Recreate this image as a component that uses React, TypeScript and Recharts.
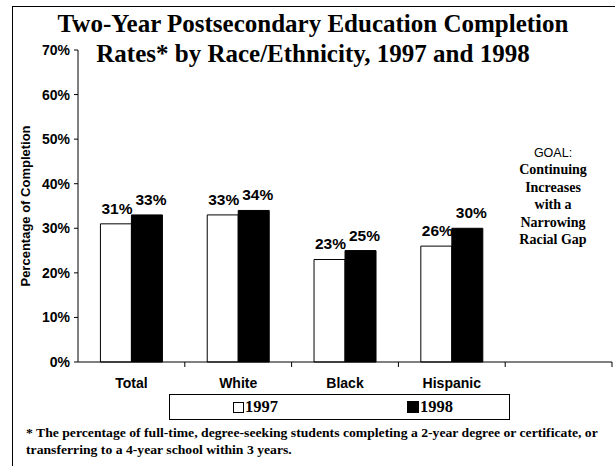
import React from 'react';
import { BarChart, Bar, XAxis, YAxis, LabelList } from 'recharts';

const categories = ['Total', 'White', 'Black', 'Hispanic', ''];
const rates1997 = [31, 33, 23, 26, null];
const rates1998 = [33, 34, 25, 30, null];
const yTicks = [0, 10, 20, 30, 40, 50, 60, 70];

const goalLines = ['Continuing', 'Increases', 'with a', 'Narrowing', 'Racial Gap'];

const data = categories.map((name, i) => ({
  name,
  y1997: rates1997[i],
  y1998: rates1998[i],
}));

const sans = '"Liberation Sans", Arial, sans-serif';
const serif = '"Liberation Serif", "Times New Roman", serif';

const pct = (v: any) => (v === null || v === undefined ? '' : `${v}%`);

const CategoryTick = (props: any) => {
  const { x, y, payload } = props;
  const half = payload && payload.offset ? payload.offset : 53.4;
  return (
    <g>
      <line x1={x + half} x2={x + half} y1={y} y2={y + 5} stroke="#000" />
      <text
        x={x}
        y={y + 26}
        textAnchor="middle"
        fontFamily={sans}
        fontWeight={700}
        fontSize={14}
        fill="#000"
      >
        {payload.value}
      </text>
    </g>
  );
};

const AxisTitle = (props: any) => {
  const vb = props.viewBox || { x: 18, y: 50, height: 312 };
  const bx = vb.x + 12;
  const cy = vb.y + vb.height / 2;
  return (
    <text
      x={bx}
      y={cy}
      transform={`rotate(-90 ${bx} ${cy})`}
      textAnchor="middle"
      fontFamily={sans}
      fontWeight={700}
      fontSize={13}
      fill="#000"
    >
      Percentage of Completion
    </text>
  );
};

const labelStyle = { fontFamily: sans, fontWeight: 700, fontSize: 15.5, fill: '#000' };

const App: React.FC = () => {
  return (
    <div
      style={{
        position: 'absolute',
        left: 0,
        top: 0,
        width: 615,
        height: 466,
        overflow: 'hidden',
        background: '#fff',
      }}
    >
      <div
        style={{
          position: 'absolute',
          left: 12,
          top: 6,
          width: 700,
          height: 600,
          borderLeft: '1px solid #000',
          borderTop: '1px solid #000',
        }}
      />

      <BarChart
        width={615}
        height={466}
        data={data}
        margin={{ top: 50, right: 3, left: 18, bottom: 74 }}
        barCategoryGap="21%"
        barGap={0}
        style={{ position: 'absolute', left: 0, top: 0 }}
      >
        <XAxis
          dataKey="name"
          height={30}
          tickLine={false}
          tickSize={0}
          tickMargin={0}
          axisLine={{ stroke: '#000' }}
          tick={<CategoryTick />}
          interval={0}
        />
        <YAxis
          width={60}
          domain={[0, 70]}
          ticks={yTicks}
          tickFormatter={pct}
          tickSize={4}
          tickMargin={4}
          axisLine={{ stroke: '#000' }}
          tickLine={{ stroke: '#000' }}
          tick={{ fill: '#000', fontFamily: sans, fontWeight: 700, fontSize: 14 }}
          label={{ content: <AxisTitle /> }}
        />
        <Bar dataKey="y1997" fill="#fff" stroke="#000" strokeWidth={1} isAnimationActive={false}>
          <LabelList dataKey="y1997" position="top" offset={10} dx={1} formatter={pct} style={labelStyle} />
        </Bar>
        <Bar dataKey="y1998" fill="#000" stroke="#000" strokeWidth={1} isAnimationActive={false}>
          <LabelList dataKey="y1998" position="top" offset={10} dx={4} formatter={pct} style={labelStyle} />
        </Bar>
      </BarChart>

      <div
        style={{
          position: 'absolute',
          left: 0,
          top: 9,
          width: 626,
          textAlign: 'center',
          fontFamily: serif,
          fontWeight: 700,
          fontSize: 25,
          lineHeight: '30px',
          color: '#000',
        }}
      >
        <div>Two-Year Postsecondary Education Completion</div>
        <div>Rates* by Race/Ethnicity, 1997 and 1998</div>
      </div>

      <div
        style={{
          position: 'absolute',
          left: 503,
          top: 145,
          width: 100,
          textAlign: 'center',
          color: '#000',
        }}
      >
        <div style={{ fontFamily: sans, fontSize: 12.5, lineHeight: '16px' }}>GOAL:</div>
        {goalLines.map((l) => (
          <div key={l} style={{ fontFamily: serif, fontWeight: 700, fontSize: 14, lineHeight: '17.5px' }}>
            {l}
          </div>
        ))}
      </div>

      <div
        style={{
          position: 'absolute',
          left: 169,
          top: 394,
          width: 341,
          height: 26,
          border: '1px solid #000',
          boxSizing: 'border-box',
          fontFamily: serif,
          fontWeight: 700,
          fontSize: 16.5,
          color: '#000',
        }}
      >
        <div style={{ position: 'absolute', left: 63, top: 2, display: 'flex', alignItems: 'center' }}>
          <span style={{ display: 'inline-block', width: 9, height: 9, border: '1px solid #000', marginRight: 1 }} />
          <span>1997</span>
        </div>
        <div style={{ position: 'absolute', left: 237, top: 2, display: 'flex', alignItems: 'center' }}>
          <span style={{ display: 'inline-block', width: 10, height: 10, background: '#000', border: '1px solid #000', marginRight: 1 }} />
          <span>1998</span>
        </div>
      </div>

      <div
        style={{
          position: 'absolute',
          left: 26,
          top: 425,
          fontFamily: serif,
          fontWeight: 700,
          fontSize: 12,
          lineHeight: '17px',
          color: '#000',
          whiteSpace: 'nowrap',
          transform: 'scaleX(1.14)',
          transformOrigin: 'left top',
        }}
      >
        <div>* The percentage of full-time, degree-seeking students completing a 2-year degree or certificate, or</div>
        <div>transferring to a 4-year school within 3 years.</div>
      </div>
    </div>
  );
};

export default App;
